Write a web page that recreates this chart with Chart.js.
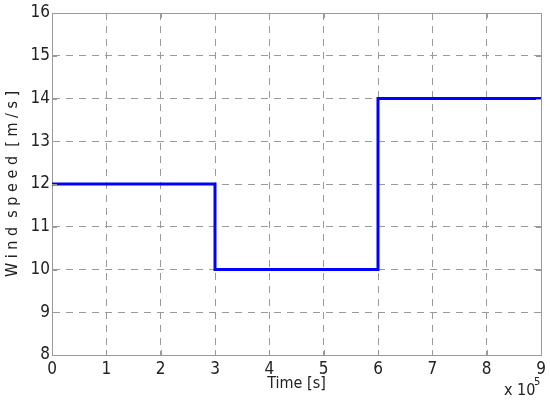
<!DOCTYPE html>
<html>
<head>
<meta charset="utf-8">
<script src="https://cdn.jsdelivr.net/npm/chart.js@4/dist/chart.umd.min.js"></script>
<style>
  html, body { margin: 0; padding: 0; background: #fff; }
  #wrap { width: 550px; height: 409px; }
</style>
</head>
<body>
<div id="wrap"><canvas id="windChart" width="550" height="409"></canvas></div>
<script>
// step profile of the wind speed (time in s, speed in m/s)
const timeSec = [0, 300000, 300000, 600000, 600000, 900000];
const windSpeed = [12, 12, 10, 10, 14, 14];

const xMin = 0, xMax = 900000, xStep = 100000;
const yMin = 8, yMax = 16;
const xExponent = 5;

const FONT = '"Liberation Sans Narrow", "DejaVu Sans Condensed", "Liberation Sans", sans-serif';
const AXIS_GREY = '#9a9a9a';

// draw the box border (top/right), inner ticks and the x10^5 multiplier
const boxPlugin = {
    id: 'boxPlugin',
    afterDraw(chart) {
        const { ctx, chartArea: a, scales } = chart;
        ctx.save();
        ctx.strokeStyle = AXIS_GREY;
        ctx.lineWidth = 1;
        ctx.setLineDash([]);
        ctx.beginPath();
        ctx.moveTo(a.left + 0.5, a.top + 0.5);
        ctx.lineTo(a.right + 0.5, a.top + 0.5);
        ctx.lineTo(a.right + 0.5, a.bottom + 0.5);
        ctx.stroke();

        // small inward ticks on all four sides
        ctx.beginPath();
        scales.y.ticks.forEach(t => {
            const py = Math.round(scales.y.getPixelForValue(t.value)) + 0.5;
            ctx.moveTo(a.left, py); ctx.lineTo(a.left + 5, py);
            ctx.moveTo(a.right, py); ctx.lineTo(a.right - 5, py);
        });
        scales.x.ticks.forEach(t => {
            const px = Math.round(scales.x.getPixelForValue(t.value)) + 0.5;
            ctx.moveTo(px, a.bottom); ctx.lineTo(px, a.bottom - 5);
            ctx.moveTo(px, a.top); ctx.lineTo(px, a.top + 5);
        });
        ctx.stroke();

        // exponent label
        ctx.fillStyle = '#222';
        ctx.textBaseline = 'alphabetic';
        ctx.textAlign = 'left';
        ctx.font = '16px ' + FONT;
        ctx.fillText('x 10', a.right - 37, a.bottom + 40);
        ctx.font = '11px ' + FONT;
        ctx.fillText(String(xExponent), a.right - 7, a.bottom + 30);
        ctx.restore();
    }
};

const ctx = document.getElementById('windChart').getContext('2d');
new Chart(ctx, {
    type: 'line',
    data: {
        datasets: [{
            label: 'Wind speed',
            data: timeSec.map((t, i) => ({ x: t, y: windSpeed[i] })),
            borderColor: '#0000ff',
            borderWidth: 3,
            pointRadius: 0,
            fill: false,
            tension: 0
        }]
    },
    options: {
        responsive: false,
        animation: false,
        layout: { padding: { top: 13, right: 9, left: 0, bottom: 0 } },
        plugins: {
            legend: { display: false },
            tooltip: { enabled: false }
        },
        scales: {
            x: {
                type: 'linear',
                min: xMin,
                max: xMax,
                afterFit(scale) { scale.height = 54; },
                ticks: {
                    stepSize: xStep,
                    color: '#222',
                    font: { family: FONT, size: 17 },
                    padding: 4,
                    callback: v => String(v / Math.pow(10, xExponent))
                },
                grid: {
                    color: AXIS_GREY,
                    lineWidth: 1,
                    drawTicks: false
                },
                border: { color: AXIS_GREY, dash: [7, 6] },
                title: {
                    display: true,
                    text: 'Time [s]',
                    color: '#222',
                    font: { family: FONT, size: 16 },
                    padding: { top: 0, bottom: 16 }
                }
            },
            y: {
                min: yMin,
                max: yMax,
                afterFit(scale) { scale.width = 52; },
                ticks: {
                    stepSize: 1,
                    color: '#222',
                    font: { family: FONT, size: 17 },
                    padding: 2
                },
                grid: {
                    color: AXIS_GREY,
                    lineWidth: 1,
                    drawTicks: false
                },
                border: { color: AXIS_GREY, dash: [7, 6] },
                title: {
                    display: true,
                    text: 'W i n d  s p e e d  [ m / s ]',
                    color: '#222',
                    font: { family: FONT, size: 16 },
                    padding: { top: 3, bottom: 0 }
                }
            }
        }
    },
    plugins: [boxPlugin]
});
</script>
</body>
</html>
